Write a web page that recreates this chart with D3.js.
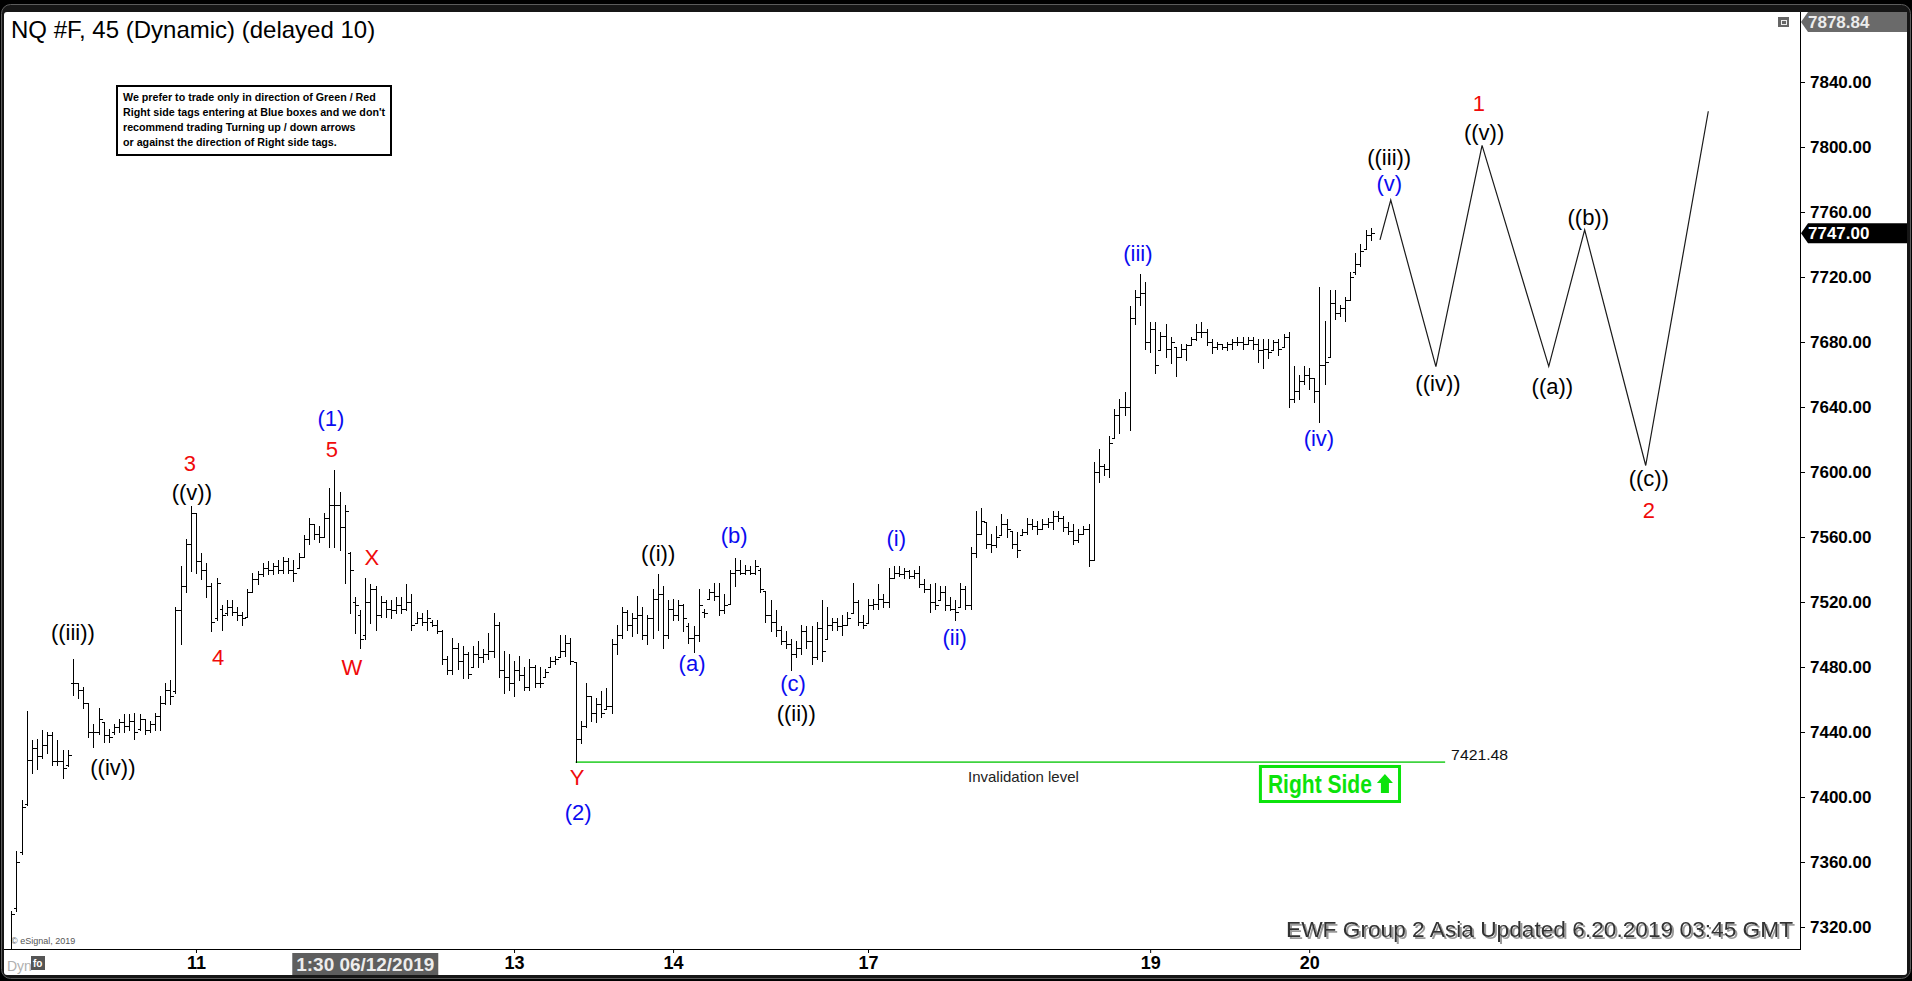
<!DOCTYPE html>
<html><head><meta charset="utf-8">
<script src="https://cdn.jsdelivr.net/npm/d3@7"></script>
<style>
html,body{margin:0;padding:0;background:#000;overflow:hidden}
svg{display:block}
text{font-family:"Liberation Sans",Arial,Helvetica,sans-serif}
</style></head><body>
<svg id="c" width="1912" height="981"></svg>
<script>
// ---------------- DATA ----------------
const barHigh = [
7330,7367,7398,7453,7435,7436,7441,7440,7440,7435,
7429,7429,7485,7470,7468,7458,7445,7455,7446,7442,
7445,7448,7451,7451,7452,7451,7448,7447,7452,7462,
7470,7472,7517,7542,7559,7579,7575,7550,7544,7532,
7535,7518,7521,7521,7517,7514,7528,7538,7539,7544,
7545,7544,7546,7548,7547,7546,7550,7561,7572,7568,
7567,7575,7590,7601,7588,7580,7551,7523,7515,7535,
7531,7530,7524,7521,7521,7523,7523,7531,7525,7514,
7513,7515,7509,7509,7503,7487,7498,7495,7493,7489,
7493,7496,7491,7501,7513,7508,7490,7488,7484,7487,
7480,7485,7481,7480,7479,7486,7487,7500,7500,7498,
7483,7447,7470,7462,7461,7465,7467,7497,7506,7517,
7515,7513,7524,7517,7512,7528,7537,7530,7521,7522,
7521,7519,7507,7505,7528,7516,7528,7532,7532,7525,
7540,7547,7546,7543,7542,7546,7541,7527,7521,7515,
7505,7502,7497,7496,7506,7505,7505,7508,7521,7517,
7510,7510,7512,7514,7532,7521,7512,7522,7522,7531,
7525,7541,7542,7542,7541,7540,7540,7542,7534,7531,
7532,7530,7530,7523,7521,7532,7530,7554,7576,7578,
7569,7562,7567,7574,7571,7564,7563,7565,7572,7571,
7570,7571,7572,7576,7576,7573,7569,7568,7565,7567,
7568,7606,7614,7605,7622,7639,7645,7649,7702,7712,
7722,7717,7692,7692,7686,7691,7683,7677,7679,7679,
7683,7691,7692,7688,7682,7680,7679,7680,7682,7683,
7683,7683,7683,7682,7682,7682,7681,7682,7685,7686,
7665,7660,7665,7664,7658,7714,7693,7712,7712,7703,
7708,7723,7735,7740,7749,7750];
const barLow = [
7300,7330,7365,7395,7415,7417,7424,7427,7420,7420,
7412,7419,7463,7461,7455,7437,7431,7439,7434,7434,
7439,7440,7440,7441,7436,7441,7439,7440,7441,7441,
7457,7457,7464,7494,7526,7539,7538,7534,7523,7502,
7509,7503,7512,7512,7509,7506,7511,7526,7531,7536,
7537,7537,7538,7538,7538,7533,7541,7548,7556,7559,
7557,7560,7554,7554,7552,7532,7513,7501,7492,7497,
7507,7503,7511,7511,7510,7513,7513,7515,7503,7507,
7506,7503,7505,7501,7482,7476,7476,7479,7473,7473,
7480,7480,7483,7485,7486,7474,7464,7466,7462,7472,
7466,7466,7468,7468,7474,7480,7482,7486,7487,7482,
7421.5,7433,7443,7447,7446,7449,7454,7452,7488,7498,
7503,7499,7501,7497,7494,7498,7503,7492,7498,7509,
7509,7502,7495,7489,7496,7511,7522,7521,7512,7513,
7519,7530,7537,7537,7537,7537,7526,7508,7502,7499,
7494,7492,7478,7486,7488,7492,7482,7485,7484,7497,
7503,7503,7500,7506,7513,7506,7504,7507,7516,7516,
7517,7517,7535,7536,7535,7535,7535,7529,7526,7514,
7516,7521,7515,7515,7509,7517,7516,7516,7548,7562,
7553,7551,7554,7561,7560,7553,7548,7561,7562,7565,
7562,7565,7566,7565,7570,7564,7562,7556,7557,7562,
7542,7546,7594,7598,7597,7621,7624,7635,7626,7691,
7703,7676,7674,7661,7675,7671,7667,7659,7671,7669,
7678,7681,7683,7678,7673,7676,7676,7675,7676,7678,
7676,7679,7676,7668,7664,7670,7675,7672,7677,7640,
7643,7645,7654,7651,7643,7631,7654,7671,7694,7696,
7693,7706,7722,7727,7737,7743];
const barOpen = [
7305,7332,7366,7396,7423,7430,7425,7432,7438,7422,
7422,7420,7470,7470,7466,7458,7440,7440,7446,7438,
7440,7443,7446,7444,7447,7442,7448,7441,7445,7450,
7458,7466,7465,7515,7530,7556,7575,7545,7540,7530,
7510,7516,7513,7517,7514,7512,7511,7526,7534,7537,
7541,7540,7542,7540,7545,7540,7541,7548,7559,7568,
7562,7560,7572,7580,7580,7566,7550,7520,7512,7500,
7520,7528,7512,7520,7516,7515,7518,7516,7520,7507,
7510,7508,7508,7506,7502,7485,7478,7492,7484,7488,
7480,7488,7486,7488,7490,7506,7478,7474,7470,7478,
7475,7468,7480,7470,7474,7480,7484,7486,7490,7495,
7483,7436,7444,7462,7452,7457,7454,7456,7494,7500,
7514,7506,7510,7512,7500,7510,7522,7525,7500,7516,
7512,7518,7505,7498,7500,7514,7522,7526,7524,7515,
7519,7538,7540,7538,7540,7538,7540,7527,7512,7508,
7503,7496,7494,7488,7492,7502,7496,7486,7504,7497,
7506,7508,7505,7506,7513,7520,7508,7507,7518,7519,
7522,7520,7535,7538,7537,7539,7536,7538,7531,7528,
7520,7521,7526,7518,7516,7517,7528,7518,7550,7562,
7569,7556,7555,7561,7568,7564,7556,7561,7563,7568,
7567,7565,7568,7569,7573,7572,7566,7564,7558,7562,
7565,7546,7600,7604,7602,7621,7635,7640,7640,7695,
7708,7710,7680,7688,7675,7684,7676,7677,7671,7676,
7678,7682,7686,7686,7680,7677,7679,7677,7679,7680,
7680,7679,7681,7679,7675,7676,7675,7680,7677,7683,
7645,7650,7656,7660,7658,7650,7666,7671,7704,7698,
7701,7706,7723,7728,7737,7746];
const barClose = [
7328,7360,7394,7423,7430,7425,7432,7438,7422,7422,
7418,7426,7470,7466,7458,7440,7440,7448,7438,7437,
7443,7446,7444,7447,7440,7448,7441,7445,7450,7458,
7466,7462,7515,7530,7556,7575,7545,7540,7530,7508,
7532,7512,7517,7514,7512,7510,7526,7534,7537,7541,
7540,7542,7540,7545,7540,7538,7548,7559,7568,7562,
7560,7572,7580,7580,7566,7576,7540,7518,7497,7520,
7528,7512,7520,7516,7515,7518,7516,7520,7506,7510,
7508,7510,7506,7502,7485,7478,7492,7484,7488,7476,
7488,7486,7488,7490,7506,7478,7474,7470,7478,7475,
7468,7480,7470,7470,7477,7484,7485,7490,7495,7484,
7436,7444,7462,7452,7457,7452,7456,7494,7500,7514,
7506,7510,7512,7500,7510,7522,7525,7500,7516,7512,
7518,7510,7498,7500,7518,7513,7526,7524,7515,7518,
7538,7540,7538,7540,7538,7542,7528,7512,7508,7503,
7496,7494,7488,7492,7502,7496,7486,7504,7490,7506,
7508,7505,7506,7510,7520,7508,7506,7518,7519,7522,
7520,7535,7538,7537,7539,7536,7538,7531,7528,7520,
7518,7526,7518,7516,7514,7528,7518,7550,7562,7570,
7556,7555,7560,7568,7565,7556,7552,7563,7568,7567,
7565,7568,7569,7573,7572,7566,7564,7558,7562,7565,
7546,7600,7604,7602,7618,7635,7640,7640,7695,7708,
7710,7680,7688,7666,7684,7676,7680,7671,7676,7678,
7682,7686,7686,7680,7677,7679,7677,7679,7680,7680,
7679,7681,7679,7675,7676,7674,7680,7676,7683,7645,
7650,7656,7660,7658,7650,7666,7668,7704,7698,7701,
7706,7720,7728,7736,7746,7747];

const yTickValues = [7320,7360,7400,7440,7480,7520,7560,7600,7640,7680,7720,7760,7800,7840];
const dayTickIdx = [36, 98, 129, 167, 222, 253];
const dayLabels = ["11", "13", "14", "17", "19", "20"];
const cursorIdx = 69;
const cursorLabel = "1:30 06/12/2019";

const waveLabels = ["((iii))","((iv))","3","((v))","4","(1)","5","X","W","((i))","Y","(2)","(a)","(b)","(c)","((ii))","(i)","(ii)","(iii)","(iv)","((iii))","(v)","1","((v))","((iv))","((a))","((b))","((c))","2"];
const waveIdx = [12.0,19.8,34.8,35.2,40.3,62.3,62.5,70.3,66.4,126.1,110.3,110.5,132.7,140.9,152.4,153.0,172.5,183.9,219.6,254.9,268.6,268.6,286.1,287.1,278.1,300.4,307.4,319.2,319.2];
const wavePrice = [7501.5,7418.5,7605.5,7587.7,7486.2,7633.2,7614.2,7547.7,7480,7550.2,7412.3,7390.8,7482.5,7561.2,7470.2,7451.7,7559.4,7498.5,7734.8,7620.9,7793.8,7777.8,7827.1,7809.2,7654.8,7652.9,7756.9,7596.3,7576.6];
const waveDegree = ["minute","minute","minor","minute","minor","intermediate","minor","minor","minor","minute","minor","intermediate","minuette","minuette","minuette","minute","minuette","minuette","minuette","minuette","minute","minuette","minor","minute","minute","minute","minute","minute","minor"];

const projIdx = [266.8, 268.9, 277.7, 286.7, 299.7, 306.7, 318.6, 330.8];
const projPrice = [7742.8, 7767.3, 7664.8, 7801, 7665, 7749, 7604, 7822];

const invalidationLevel = 7421.48;
const invalidationStartIdx = 110;
const invalidationEndIdx = 279.5;

const lastPrice = 7747.00;
const highPrice = 7878.84;

const noteLines = ["We prefer to trade only in direction of Green / Red",
  "Right side tags entering at Blue boxes and we don't",
  "recommend trading Turning up / down arrows",
  "or against the direction of Right side tags."];

// ---------------- CHART ----------------
const W = 1912, H = 981;
const PL = 4, PT = 12, PR = 1800, PB = 949;
const svg = d3.select("#c");
const x = d3.scaleLinear().domain([0, 340]).range([11.3, 11.3 + 5.13 * 340]);
const y = d3.scaleLinear().domain([7320, 7840]).range([927, 82]);
const degreeColor = {minor: "#f00a0a", minute: "#000000", minuette: "#0b0bf0", intermediate: "#0b0bf0"};

// frame
svg.append("rect").attr("width", W).attr("height", H).attr("fill", "#000");
svg.append("rect").attr("x", 1.5).attr("y", 4.5).attr("width", 1909).attr("height", 974)
  .attr("rx", 9).attr("fill", "#161616").attr("stroke", "#5c5c5c");
svg.append("rect").attr("x", 4).attr("y", 12).attr("width", 1903).attr("height", 963)
  .attr("rx", 3).attr("fill", "#fff");

const defs = svg.append("defs");
defs.append("clipPath").attr("id", "clip").append("rect")
  .attr("x", PL).attr("y", PT).attr("width", PR - PL).attr("height", PB - PT);
const shadow = defs.append("filter").attr("id", "shadow").attr("x", "-5%").attr("y", "-30%")
  .attr("width", "110%").attr("height", "160%");
shadow.append("feDropShadow").attr("dx", 2).attr("dy", 2).attr("stdDeviation", 0.6)
  .attr("flood-color", "#9a9a9a").attr("flood-opacity", 1);

// axis frame lines
svg.append("line").attr("x1", PR + 0.5).attr("x2", PR + 0.5).attr("y1", PT).attr("y2", PB + 1)
  .attr("stroke", "#000");
svg.append("line").attr("x1", PL).attr("x2", PR + 1).attr("y1", PB + 0.5).attr("y2", PB + 0.5)
  .attr("stroke", "#000");

// y axis
const yAxis = svg.append("g").attr("transform", `translate(${PR},0)`)
  .call(d3.axisRight(y).tickValues(yTickValues).tickSize(5).tickPadding(5).tickFormat(d3.format(".2f")));
yAxis.select(".domain").remove();
yAxis.selectAll("text").attr("font-size", 17).attr("font-weight", "bold").attr("fill", "#000")
  .attr("font-family", "Liberation Sans, Arial, sans-serif");

// x axis
const xAxis = svg.append("g").attr("transform", `translate(0,${PB})`)
  .call(d3.axisBottom(x).tickValues(dayTickIdx).tickSize(4).tickPadding(3).tickFormat((d, i) => dayLabels[i]));
xAxis.select(".domain").remove();
xAxis.selectAll("text").attr("font-size", 18).attr("font-weight", "bold").attr("fill", "#000")
  .attr("font-family", "Liberation Sans, Arial, sans-serif");

// cursor time box
const cx0 = x(cursorIdx);
svg.append("rect").attr("x", cx0 - 73).attr("y", 953).attr("width", 146).attr("height", 22).attr("fill", "#5e5e5e");
svg.append("text").attr("x", cx0).attr("y", 971).attr("text-anchor", "middle")
  .attr("font-size", 19).attr("font-weight", "bold").attr("fill", "#ededed")
  .attr("textLength", 138).attr("lengthAdjust", "spacingAndGlyphs").text(cursorLabel);

// Dyn / eSignal
svg.append("text").attr("x", 7).attr("y", 971).attr("font-size", 14).attr("fill", "#b0b0b0").text("Dyn");
svg.append("rect").attr("x", 31).attr("y", 956).attr("width", 14).attr("height", 14).attr("fill", "#555");
svg.append("text").attr("x", 33).attr("y", 967).attr("font-size", 10).attr("font-weight", "bold").attr("fill", "#fff").text("fo");
svg.append("text").attr("x", 11).attr("y", 944).attr("font-size", 9).attr("fill", "#555").text("© eSignal, 2019");

// plot group
const plot = svg.append("g").attr("clip-path", "url(#clip)");

// invalidation line
plot.append("line").attr("x1", x(invalidationStartIdx)).attr("x2", x(invalidationEndIdx))
  .attr("y1", y(invalidationLevel)).attr("y2", y(invalidationLevel))
  .attr("stroke", "#3fd33f").attr("stroke-width", 1.6);
svg.append("text").attr("x", x(invalidationEndIdx) + 6).attr("y", y(invalidationLevel) - 2)
  .attr("font-family", "DejaVu Sans, Verdana, sans-serif").attr("font-size", 15.5).attr("fill", "#111")
  .attr("textLength", 57).attr("lengthAdjust", "spacingAndGlyphs")
  .text(d3.format(".2f")(invalidationLevel));
svg.append("text").attr("x", x(197.3)).attr("y", y(7412.3)).attr("dy", "0.35em").attr("text-anchor", "middle")
  .attr("font-size", 15).attr("fill", "#222").text("Invalidation level");

// Right Side box (anchored to data coordinates)
const rsX0 = x(243.2), rsX1 = x(270.9), rsY0 = y(7419.7), rsY1 = y(7396.3);
svg.append("rect").attr("x", rsX0 + 1.5).attr("y", rsY0 + 1.5).attr("width", rsX1 - rsX0 - 3).attr("height", rsY1 - rsY0 - 3)
  .attr("fill", "#fff").attr("stroke", "#0be30b").attr("stroke-width", 3);
svg.append("text").attr("x", rsX0 + 9).attr("y", rsY0 + 28).attr("font-size", 25).attr("font-weight", "bold")
  .attr("fill", "#0be30b").attr("textLength", 104).attr("lengthAdjust", "spacingAndGlyphs").text("Right Side");
{
  const ax = rsX0 + 126, ay = rsY0 + 9;
  svg.append("path").attr("fill", "#0be30b")
    .attr("d", `M${ax},${ay} L${ax + 8},${ay + 9} L${ax + 4},${ay + 9} L${ax + 4},${ay + 19} L${ax - 4},${ay + 19} L${ax - 4},${ay + 9} L${ax - 8},${ay + 9} Z`);
}

// OHLC bars
const N = barHigh.length;
const px = i => Math.round(x(i)) + 0.5;
const py = v => Math.round(y(v)) + 0.5;
plot.append("g").attr("stroke", "#000").attr("stroke-width", 1).attr("shape-rendering", "crispEdges")
  .attr("fill", "none")
  .selectAll("path").data(d3.range(N)).join("path")
  .attr("d", i => {
    const cx = px(i);
    return `M${cx},${Math.round(y(barHigh[i]))}V${Math.round(y(barLow[i])) + 1}` +
      `M${cx - 3},${py(barOpen[i])}H${cx}` +
      `M${cx},${py(barClose[i])}H${cx + 3}`;
  });

// projection path
const line = d3.line().x((d, i) => x(projIdx[i])).y((d, i) => y(projPrice[i]));
plot.append("path").datum(projIdx).attr("d", line).attr("fill", "none")
  .attr("stroke", "#1a1a1a").attr("stroke-width", 1.2);

// wave labels
svg.append("g").selectAll("text").data(waveLabels).join("text")
  .attr("x", (d, i) => x(waveIdx[i])).attr("y", (d, i) => y(wavePrice[i]))
  .attr("dy", "0.36em").attr("text-anchor", "middle")
  .attr("font-size", 22).attr("fill", (d, i) => degreeColor[waveDegree[i]])
  .text(d => d);

// title
svg.append("text").attr("x", 11).attr("y", 38).attr("font-size", 24).attr("fill", "#000")
  .text("NQ #F, 45 (Dynamic) (delayed 10)");

// note box
svg.append("rect").attr("x", 117).attr("y", 86).attr("width", 274).attr("height", 69)
  .attr("fill", "#fff").attr("stroke", "#000").attr("stroke-width", 2);
svg.append("g").selectAll("text").data(noteLines).join("text")
  .attr("x", 123).attr("y", (d, i) => 101 + i * 15)
  .attr("font-size", 10.7).attr("font-weight", "bold").attr("fill", "#000").text(d => d);

// top-right small icon
svg.append("rect").attr("x", 1778).attr("y", 17).attr("width", 11).attr("height", 10).attr("fill", "#666");
svg.append("rect").attr("x", 1781.5).attr("y", 20.5).attr("width", 5).attr("height", 4).attr("fill", "none").attr("stroke", "#eee");

// price tags
function tag(cy, fill, txtFill, label) {
  svg.append("path").attr("fill", fill)
    .attr("d", `M${PR + 1},${cy} L${PR + 8},${cy - 10} L1907,${cy - 10} L1907,${cy + 10} L${PR + 8},${cy + 10} Z`);
  svg.append("text").attr("x", PR + 8).attr("y", cy).attr("dy", "0.36em")
    .attr("font-size", 17).attr("font-weight", "bold").attr("fill", txtFill).text(label);
}
tag(Math.max(y(highPrice), PT + 10), "#6a6a6a", "#ececec", d3.format(".2f")(highPrice));
tag(y(lastPrice), "#000", "#fff", d3.format(".2f")(lastPrice));

// footer text (single text element with drop shadow, natural width ends left of the axis)
const footer = "EWF Group 2 Asia Updated 6.20.2019 03:45 GMT";
svg.append("text").attr("x", 1793).attr("y", 937).attr("text-anchor", "end")
  .attr("font-size", 22.7).attr("fill", "#333")
  .attr("filter", "url(#shadow)").text(footer);
</script>
</body></html>
